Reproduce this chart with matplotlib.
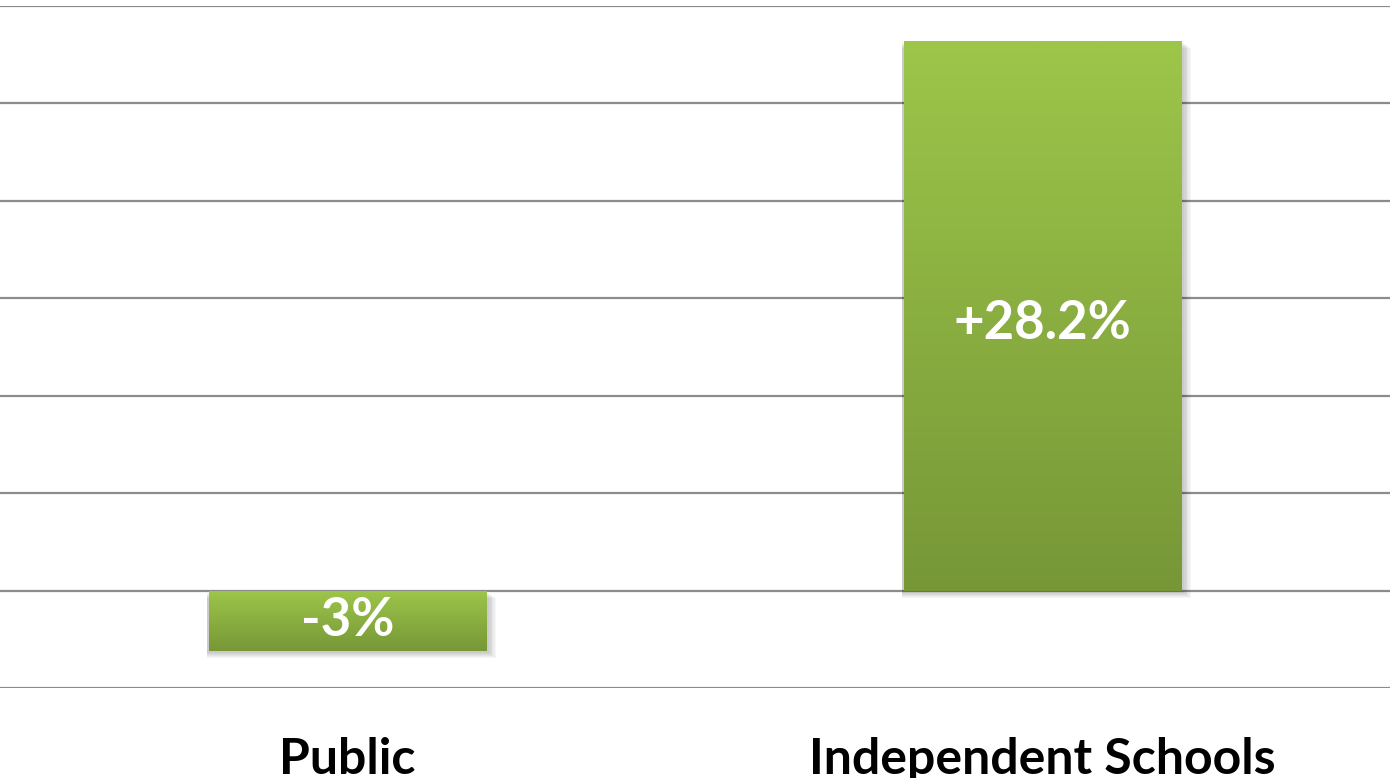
import matplotlib
matplotlib.use("Agg")
import matplotlib.pyplot as plt
import numpy as np
from matplotlib.colors import LinearSegmentedColormap
from matplotlib.patches import Rectangle

categories = ["Public", "Independent Schools"]
values = [-3.1, 28.2]
labels = ["-3%", "+28.2%"]
label_y = [-1.55, 13.7]
grid_ticks = [-5, 0, 5, 10, 15, 20, 25, 30]

top_green = "#9dc64a"
bottom_green = "#779737"
cmap = LinearSegmentedColormap.from_list("bar", [bottom_green, top_green])

fig = plt.figure(figsize=(13.9, 7.78), dpi=100)
ax = fig.add_axes([0, 90 / 778, 1, 682 / 778])

for t in grid_ticks:
    ax.axhline(t, color="#8c8c8c", lw=1.6, zorder=1)

width = 0.4
grad = np.linspace(0, 1, 256).reshape(-1, 1)
for i, v in enumerate(values):
    x0 = i - width / 2
    lo, hi = min(0, v), max(0, v)
    # soft shadow
    for k in range(6):
        ax.add_patch(Rectangle((x0 - 0.002, lo - 0.12 - k * 0.05), width + 0.006 + k * 0.002,
                               hi - lo, facecolor="black", alpha=0.035, lw=0, zorder=2))
    rect = Rectangle((x0, lo), width, hi - lo, facecolor="none", lw=0, zorder=3)
    ax.add_patch(rect)
    im = ax.imshow(grad, cmap=cmap, origin="lower", aspect="auto",
                   extent=[x0, x0 + width, lo, hi], zorder=3)
    im.set_clip_path(rect)
    ax.text(i, label_y[i], labels[i], color="white", ha="center", va="center",
            fontsize=38, fontweight="bold", family=["Lato", "DejaVu Sans"], zorder=4)

ax.set_xlim(-0.5, 1.5)
ax.set_ylim(-5, 30)
for i, c in enumerate(categories):
    ax.text(i, -9.4, c, ha="center", va="baseline", fontsize=36, fontweight="bold",
            family=["Lato", "DejaVu Sans"], color="black", clip_on=False)

ax.axis("off")
fig.savefig("out.png", dpi=100)
